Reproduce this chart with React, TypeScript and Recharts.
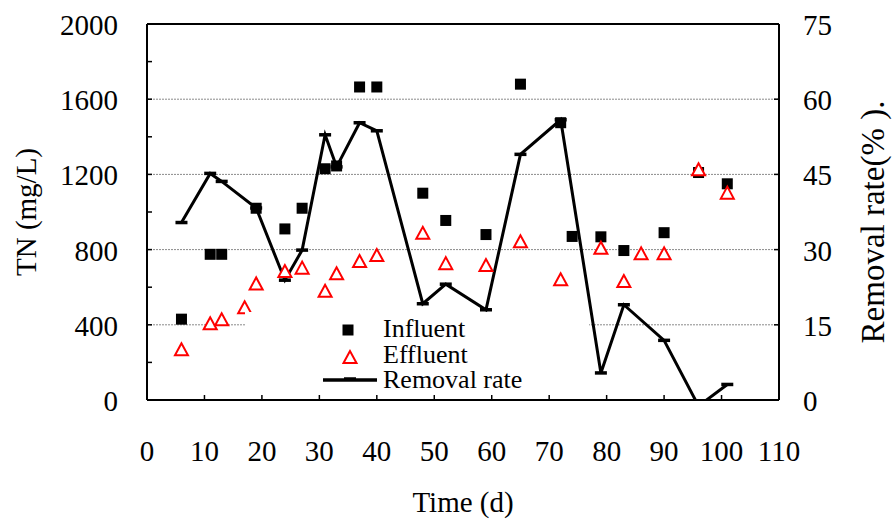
import { ComposedChart, Label, Line, ReferenceLine, Scatter, XAxis, YAxis } from 'recharts';

// TN de entrada / salida (mg/L) y tasa de eliminación (%)
const influentDays = [6, 11, 13, 19, 24, 27, 31, 33, 37, 40, 48, 52, 59, 65, 72, 74, 79, 83, 90, 96, 101];
const influentTN = [430, 775, 775, 1020, 910, 1020, 1230, 1245, 1665, 1665, 1100, 955, 880, 1680, 1475, 870, 868, 795, 890, 1210, 1150];

const effluentDays = [6, 11, 13, 17, 19, 24, 27, 31, 33, 37, 40, 48, 52, 59, 65, 72, 79, 83, 86, 90, 96, 101];
const effluentTN = [270, 408, 429, 493, 620, 686, 704, 581, 674, 739, 771, 889, 728, 718, 844, 642, 810, 633, 780, 780, 1227, 1103];

const removalDays = [6, 11, 13, 19, 24, 27, 31, 33, 37, 40, 48, 52, 59, 65, 72, 79, 83, 90, 96, 101];
const removalRate = [35.4, 45.2, 43.6, 38.3, 23.9, 29.9, 52.9, 46.5, 55.3, 53.7, 19.2, 23.1, 18.0, 49.0, 55.9, 5.4, 19.0, 11.9, -1.2, 3.1];

const timeTicks = [0, 10, 20, 30, 40, 50, 60, 70, 80, 90, 100, 110];
const tnTicks = [0, 200, 400, 600, 800, 1000, 1200, 1400, 1600, 1800, 2000];
const tnGrid = [400, 800, 1200, 1600];
const rateTicks = [0, 15, 30, 45, 60, 75];

const influent = influentDays.map((day, i) => ({ day, tn: influentTN[i] }));
const effluent = effluentDays.map((day, i) => ({ day, tn: effluentTN[i] }));
const removal = removalDays.map((day, i) => ({ day, rate: removalRate[i] }));

const serif = '"Liberation Serif", "Times New Roman", serif';
const W = 893;
const H = 520;

function TnTick({ x, y, payload }: any) {
  const v = payload.value;
  return (
    <g>
      <line x1={x} x2={x + 5} y1={y} y2={y} stroke="#000" strokeWidth={1.5} />
      {v % 400 === 0 && (
        <text x={x - 29} y={y + 11} textAnchor="end" fontSize={29} fontFamily={serif} fill="#000">{v}</text>
      )}
    </g>
  );
}

function RateTick({ x, y, payload }: any) {
  return (
    <g>
      <line x1={x - 5} x2={x} y1={y} y2={y} stroke="#000" strokeWidth={1.5} />
      <text x={x + 24} y={y + 11} textAnchor="start" fontSize={29} fontFamily={serif} fill="#000">{payload.value}</text>
    </g>
  );
}

function TimeTick({ x, y, payload }: any) {
  return (
    <g>
      <line x1={x} x2={x} y1={y - 5} y2={y} stroke="#000" strokeWidth={1.5} />
      <text x={x} y={y + 61} textAnchor="middle" fontSize={29} fontFamily={serif} fill="#000">{payload.value}</text>
    </g>
  );
}

const Square = ({ cx, cy }: any) => <rect x={cx - 5.5} y={cy - 5.5} width={11} height={11} fill="#000" />;

const Triangle = ({ cx, cy }: any) => (
  <polygon points={`${cx},${cy - 6} ${cx - 6.5},${cy + 6} ${cx + 6.5},${cy + 6}`} fill="#fff" stroke="#ff0000" strokeWidth={2} />
);

const Dash = (p: any) => (
  <line key={`dash-${p.index}`} x1={p.cx - 6} x2={p.cx + 6} y1={p.cy} y2={p.cy} stroke="#000" strokeWidth={3.5} />
);

// leyenda propia con fondo blanco: tapa la rejilla de 400 como en el original
function LegendBox() {
  const txt = { fontSize: 26, fontFamily: serif, fill: '#000' };
  return (
    <div style={{ position: 'absolute', left: 245, top: 312, width: 344, height: 82, background: '#fff' }}>
      <svg width={344} height={82}>
        <rect x={97.5} y={12.5} width={11} height={11} fill="#000" />
        <text x={138} y={25} {...txt}>Influent</text>
        <polygon points="105,39 98.5,51 111.5,51" fill="#fff" stroke="#ff0000" strokeWidth={2} />
        <text x={138} y={51} {...txt}>Effluent</text>
        <line x1={78} x2={132} y1={68} y2={68} stroke="#000" strokeWidth={3.5} />
        <line x1={99} x2={111} y1={67} y2={67} stroke="#000" strokeWidth={3.5} />
        <text x={138} y={76} {...txt}>Removal rate</text>
      </svg>
    </div>
  );
}

export default function App() {
  return (
    <div style={{ position: 'absolute', left: 0, top: 0, width: W, height: H, background: '#fff' }}>
      <ComposedChart width={W} height={H} margin={{ top: 24, right: 54, bottom: 60, left: 47 }}>
        <XAxis
          type="number" dataKey="day" domain={[0, 110]} ticks={timeTicks} interval={0}
          height={60} tickSize={0} tickMargin={0} tickLine={false} tick={<TimeTick />}
          axisLine={{ stroke: '#000', strokeWidth: 2 }}
        >
          <Label content={({ viewBox }: any) => (
            <text x={viewBox.x + viewBox.width / 2} y={viewBox.y + 112} textAnchor="middle" fontSize={29} fontFamily={serif} fill="#000">Time (d)</text>
          )} />
        </XAxis>
        <YAxis
          yAxisId="left" type="number" domain={[0, 2000]} ticks={tnTicks} interval={0} width={100}
          tickSize={0} tickMargin={0} tickLine={false} tick={<TnTick />}
          axisLine={{ stroke: '#000', strokeWidth: 2 }}
        >
          <Label content={({ viewBox }: any) => {
            const lx = viewBox.x - 11;
            const ly = viewBox.y + viewBox.height / 2;
            return (
              <text x={lx} y={ly} transform={`rotate(-90 ${lx} ${ly})`} textAnchor="middle" fontSize={29} fontFamily={serif} fill="#000">TN (mg/L)</text>
            );
          }} />
        </YAxis>
        <YAxis
          yAxisId="right" orientation="right" type="number" domain={[0, 75]} allowDataOverflow
          ticks={rateTicks} interval={0} width={60}
          tickSize={0} tickMargin={0} tickLine={false} tick={<RateTick />}
          axisLine={{ stroke: '#000', strokeWidth: 2 }}
        >
          <Label content={({ viewBox }: any) => {
            const lx = viewBox.x + 105;
            const ly = viewBox.y + viewBox.height / 2 + 10;
            return (
              <text x={lx} y={ly} transform={`rotate(-90 ${lx} ${ly})`} textAnchor="middle" fontSize={33} fontFamily={serif} fill="#000">Removal rate(% ).</text>
            );
          }} />
        </YAxis>

        {tnGrid.map((v) => (
          <ReferenceLine key={v} yAxisId="left" y={v} stroke="#8a8a8a" strokeWidth={1} strokeDasharray="2 1" />
        ))}
        <ReferenceLine yAxisId="left" y={2000} stroke="#000" strokeWidth={2} />

        <Scatter yAxisId="left" name="Influent" data={influent} dataKey="tn" shape={<Square />} isAnimationActive={false} />
        <Scatter yAxisId="left" name="Effluent" data={effluent} dataKey="tn" shape={<Triangle />} isAnimationActive={false} />
        <Line
          yAxisId="right" name="Removal rate" data={removal} dataKey="rate" type="linear"
          stroke="#000" strokeWidth={3} dot={Dash} activeDot={false} isAnimationActive={false}
        />
      </ComposedChart>
      <LegendBox />
    </div>
  );
}
